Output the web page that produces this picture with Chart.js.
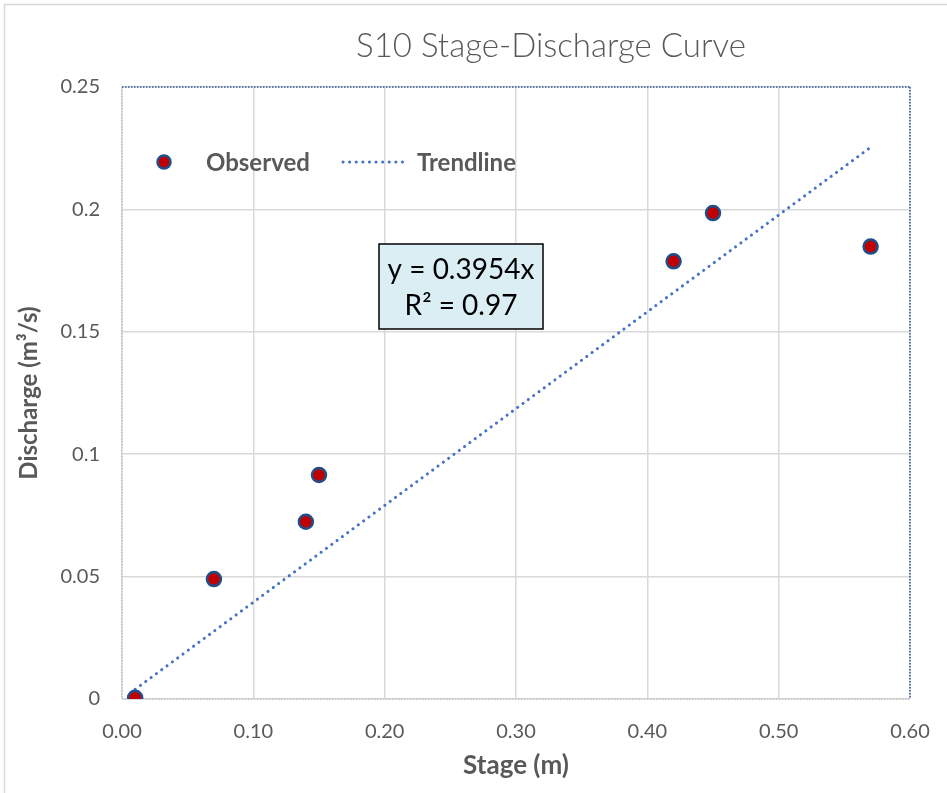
<!DOCTYPE html>
<html lang="en">
<head>
  <meta charset="UTF-8">
  <title>S10 Stage-Discharge Curve</title>
  <script src="https://cdn.jsdelivr.net/npm/chart.js@4"></script>
  <style>
    html, body { margin: 0; padding: 0; background: #fff; }
    #wrap { width: 947px; height: 793px; position: relative; }
  </style>
</head>
<body>

<div id="wrap">
  <canvas id="stageChart" width="947" height="793"></canvas>
</div>

<script>
  // observed stage (m) and discharge (m3/s)
  const stage = [0.01, 0.07, 0.14, 0.15, 0.42, 0.45, 0.57];
  const discharge = [0.0005, 0.049, 0.0724, 0.0915, 0.1788, 0.1985, 0.1848];

  // linear trendline through origin, as printed on the chart
  const trendSlope = 0.3954;
  const trendR2 = 0.97;

  const xTicks = [0, 0.1, 0.2, 0.3, 0.4, 0.5, 0.6];
  const yTicks = [0, 0.05, 0.1, 0.15, 0.2, 0.25];

  const grey = '#595959';
  const font = 'Lato, "Open Sans", sans-serif';

  const xMin = Math.min(...stage);
  const xMax = Math.max(...stage);
  const trendPoints = [
    { x: xMin, y: trendSlope * xMin },
    { x: xMax, y: trendSlope * xMax }
  ];

  function dotted(ctx, color, x1, y1, x2, y2) {
    ctx.setLineDash([1.5, 1.5]);
    ctx.lineWidth = 1.5;
    ctx.strokeStyle = color;
    ctx.beginPath();
    ctx.moveTo(x1, y1);
    ctx.lineTo(x2, y2);
    ctx.stroke();
    ctx.setLineDash([]);
  }

  // title, legend, equation box and frame drawn on the canvas
  const decorations = {
    id: 'decorations',
    beforeDraw(chart) {
      const ctx = chart.ctx;
      ctx.save();
      ctx.strokeStyle = '#D9D9D9';
      ctx.lineWidth = 1.5;
      ctx.strokeRect(4.5, 4.5, 1000, 1000);
      ctx.restore();
    },
    beforeDatasetsDraw(chart) {
      const ctx = chart.ctx;
      const a = chart.chartArea;
      ctx.save();
      // plot-area frame: left/bottom grey, top/right blue, all dotted
      dotted(ctx, '#BFBFBF', a.left, a.top, a.left, a.bottom);
      dotted(ctx, '#BFBFBF', a.left, a.bottom, a.right, a.bottom);
      dotted(ctx, '#2F5597', a.left, a.top, a.right, a.top);
      dotted(ctx, '#2F5597', a.right, a.top, a.right, a.bottom);
      ctx.restore();
    },
    afterDatasetsDraw(chart) {
      const ctx = chart.ctx;
      ctx.save();

      // title
      ctx.fillStyle = grey;
      ctx.font = '300 33px ' + font;
      ctx.textAlign = 'center';
      ctx.textBaseline = 'middle';
      ctx.fillText('S10 Stage-Discharge Curve', 551, 46);

      // legend
      ctx.beginPath();
      ctx.arc(164, 162, 6.5, 0, Math.PI * 2);
      ctx.fillStyle = '#C00000';
      ctx.fill();
      ctx.lineWidth = 2.5;
      ctx.strokeStyle = '#1F4E89';
      ctx.stroke();

      ctx.font = 'bold 24px ' + font;
      ctx.fillStyle = grey;
      ctx.textAlign = 'left';
      ctx.fillText('Observed', 206, 163);

      ctx.strokeStyle = '#4472C4';
      ctx.lineWidth = 3;
      ctx.lineCap = 'round';
      ctx.setLineDash([0.1, 6.5]);
      ctx.beginPath();
      ctx.moveTo(343, 162);
      ctx.lineTo(408, 162);
      ctx.stroke();
      ctx.setLineDash([]);
      ctx.lineCap = 'butt';

      ctx.fillStyle = grey;
      ctx.fillText('Trendline', 417, 163);

      // equation box
      ctx.fillStyle = '#DAEEF3';
      ctx.fillRect(379, 244, 164, 85);
      ctx.strokeStyle = '#000';
      ctx.lineWidth = 1.5;
      ctx.strokeRect(379, 244, 164, 85);
      ctx.fillStyle = '#000';
      ctx.font = '28px ' + font;
      ctx.textAlign = 'center';
      ctx.fillText('y = ' + trendSlope + 'x', 461, 270);
      ctx.fillText('R\u00B2 = ' + trendR2.toFixed(2), 461, 306);

      ctx.restore();
    }
  };

  const config = {
    type: 'scatter',
    data: {
      datasets: [
        {
          label: 'Trendline',
          type: 'line',
          data: trendPoints,
          borderColor: '#4472C4',
          borderWidth: 3,
          borderDash: [0.1, 6.5],
          borderCapStyle: 'round',
          pointRadius: 0,
          fill: false,
          order: 2
        },
        {
          label: 'Observed',
          data: stage.map((s, i) => ({ x: s, y: discharge[i] })),
          pointRadius: 7,
          pointBackgroundColor: '#C00000',
          pointBorderColor: '#1F4E89',
          pointBorderWidth: 2.5,
          order: 1
        }
      ]
    },
    options: {
      responsive: false,
      animation: false,
      layout: { padding: { top: 87, right: 37, left: 0, bottom: 0 } },
      plugins: {
        legend: { display: false },
        title: { display: false },
        tooltip: { enabled: false }
      },
      scales: {
        x: {
          type: 'linear',
          min: 0,
          max: 0.6,
          afterBuildTicks: scale => { scale.ticks = xTicks.map(v => ({ value: v })); },
          afterFit: scale => {
            scale.height = 94;
            scale.paddingLeft = 0;
            scale.paddingRight = 0;
          },
          grid: { color: '#D9D9D9', lineWidth: 1.5, drawTicks: false },
          border: { display: false },
          ticks: {
            padding: 21,
            color: grey,
            font: { family: font, size: 20 },
            callback: v => v.toFixed(2)
          },
          title: {
            display: true,
            text: 'Stage (m)',
            color: grey,
            font: { family: font, size: 26, weight: 'bold' },
            padding: { top: 0, bottom: 12 }
          }
        },
        y: {
          type: 'linear',
          min: 0,
          max: 0.25,
          afterBuildTicks: scale => { scale.ticks = yTicks.map(v => ({ value: v })); },
          afterFit: scale => {
            scale.width = 122;
            scale.paddingTop = 0;
            scale.paddingBottom = 0;
          },
          grid: { color: '#D9D9D9', lineWidth: 1.5, drawTicks: false },
          border: { display: false },
          ticks: {
            padding: 22,
            color: grey,
            font: { family: font, size: 20 },
            callback: v => String(v)
          },
          title: {
            display: true,
            text: 'Discharge (m\u00B3/s)',
            color: grey,
            font: { family: font, size: 24, weight: 'bold' },
            padding: { top: 15, bottom: 0 }
          }
        }
      }
    },
    plugins: [decorations]
  };

  const stageChart = new Chart(document.getElementById('stageChart').getContext('2d'), config);
</script>

</body>
</html>
